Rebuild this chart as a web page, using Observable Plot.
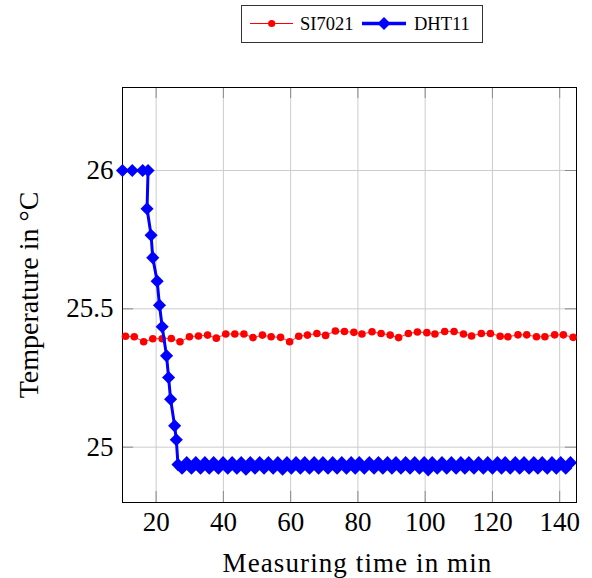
<!DOCTYPE html>
<html>
<head>
<meta charset="utf-8">
<script src="https://cdn.jsdelivr.net/npm/d3@7"></script>
<script src="https://cdn.jsdelivr.net/npm/@observablehq/plot@0.6"></script>
<style>
  html, body { margin: 0; padding: 0; background: white; }
  #wrap { position: relative; width: 592px; height: 578px; }
  #legend { position: absolute; left: 0; top: 0; }
</style>
</head>
<body>
<div id="wrap"></div>
<script>
// ---- data ----
const seriesNames = ["SI7021", "DHT11"];
const xTicks = [20, 40, 60, 80, 100, 120, 140];
const yTicks = [25, 25.5, 26];
const yTickLabels = ["25", "25.5", "26"];
const xLabel = "Measuring time in min";
const yLabel = "Temperature in \u00B0C";

const siTime = [10.9, 13.5, 16.3, 19.0, 21.8, 24.5, 27.1, 29.9, 32.6, 35.3,
  37.9, 40.7, 43.4, 46.1, 48.8, 51.6, 54.2, 57.0, 59.7, 62.4,
  65.0, 67.8, 70.4, 73.3, 76.0, 78.8, 81.2, 84.2, 86.9, 89.6,
  92.1, 95.0, 97.7, 100.5, 102.9, 105.8, 108.6, 111.4, 113.8, 116.7,
  119.4, 122.3, 124.6, 127.6, 130.2, 133.1, 135.6, 138.5, 141.1, 144.0];
const siTemp = [25.401, 25.399, 25.381, 25.392, 25.392, 25.393, 25.381, 25.399, 25.402, 25.405,
  25.394, 25.409, 25.409, 25.409, 25.396, 25.405, 25.399, 25.397, 25.381, 25.401,
  25.405, 25.411, 25.404, 25.420, 25.418, 25.415, 25.409, 25.417, 25.411, 25.405,
  25.396, 25.411, 25.416, 25.414, 25.409, 25.418, 25.418, 25.409, 25.402, 25.411,
  25.411, 25.401, 25.399, 25.406, 25.406, 25.399, 25.399, 25.406, 25.406, 25.397];

const dhtTime = [10.0, 12.9, 16.0, 17.6, 17.3, 18.5, 19.0, 20.3, 21.0, 21.8,
  23.1, 23.7, 24.3, 25.5, 26.0, 26.5,
  27.7, 29.1, 30.5, 31.8, 33.2, 34.5, 35.8, 37.1, 38.5, 39.9,
  41.3, 42.6, 44.0, 45.3, 46.7, 48.0, 49.4, 50.8, 52.1, 53.4,
  54.8, 56.2, 57.6, 58.9, 60.2, 61.6, 62.9, 64.2, 65.6, 67.0,
  68.3, 69.6, 71.1, 72.5, 73.8, 75.2, 76.6, 78.0, 79.2, 80.4,
  81.9, 83.4, 84.8, 86.1, 87.4, 88.8, 90.1, 91.3, 92.8, 94.2,
  95.5, 96.9, 98.3, 99.7, 100.9, 102.1, 103.6, 105.0, 106.4, 107.8,
  109.2, 110.6, 111.8, 113.0, 114.5, 115.9, 117.3, 118.6, 120.0, 121.5,
  122.7, 123.8, 125.3, 126.8, 128.1, 129.4, 130.9, 132.3, 133.5, 134.8,
  136.3, 137.7, 139.0, 140.3, 141.8, 143.2];
const dhtTemp = [26.0, 26.0, 26.0, 26.0, 25.862, 25.766, 25.685, 25.600, 25.513, 25.435,
  25.330, 25.252, 25.173, 25.077, 25.027, 24.937,
  24.924, 24.944, 24.924, 24.944, 24.924, 24.944, 24.924, 24.944, 24.924, 24.944,
  24.924, 24.944, 24.924, 24.944, 24.920, 24.944, 24.924, 24.944, 24.924, 24.944,
  24.924, 24.944, 24.920, 24.944, 24.924, 24.944, 24.924, 24.944, 24.924, 24.944,
  24.924, 24.944, 24.924, 24.944, 24.924, 24.944, 24.924, 24.944, 24.924, 24.944,
  24.924, 24.944, 24.924, 24.944, 24.924, 24.944, 24.924, 24.944, 24.924, 24.944,
  24.924, 24.944, 24.924, 24.944, 24.918, 24.944, 24.924, 24.944, 24.924, 24.944,
  24.924, 24.944, 24.924, 24.944, 24.924, 24.944, 24.924, 24.944, 24.924, 24.944,
  24.924, 24.944, 24.924, 24.944, 24.924, 24.944, 24.924, 24.944, 24.924, 24.944,
  24.924, 24.944, 24.924, 24.944, 24.924, 24.944];

const si = siTime.map((t, i) => ({t, v: siTemp[i]}));
const dht = dhtTime.map((t, i) => ({t, v: dhtTemp[i]}));

const serif = "'Liberation Serif', 'Times New Roman', serif";
const gridColor = "#cccccc";
const tickColor = "#8a8a8a";

const chart = Plot.plot({
  width: 592,
  height: 578,
  marginLeft: 122,
  marginRight: 16,
  marginTop: 87,
  marginBottom: 76,
  style: {fontFamily: serif, background: "white", color: "black"},
  x: {domain: [10, 145]},
  y: {domain: [24.8, 26.3]},
  marks: [
    Plot.gridX(xTicks, {stroke: gridColor, strokeOpacity: 1, strokeWidth: 1}),
    Plot.gridY(yTicks, {stroke: gridColor, strokeOpacity: 1, strokeWidth: 1}),
    // inward ticks on all four sides
    Plot.ruleX(xTicks, {y1: 24.8, y2: 24.84, stroke: tickColor}),
    Plot.ruleX(xTicks, {y1: 26.3, y2: 26.26, stroke: tickColor}),
    Plot.ruleY(yTicks, {x1: 10, x2: 13.3, stroke: tickColor}),
    Plot.ruleY(yTicks, {x1: 145, x2: 141.7, stroke: tickColor}),
    Plot.axisX(xTicks, {tickSize: 0, tickPadding: 9, fontSize: 27, label: null}),
    Plot.axisY(yTicks, {tickSize: 0, tickPadding: 9, fontSize: 27, label: null,
      tickFormat: (d) => yTickLabels[yTicks.indexOf(d)]}),
    Plot.frame({stroke: "black", strokeWidth: 1}),
    Plot.line(si, {x: "t", y: "v", stroke: "#ff0000", strokeWidth: 0.8}),
    Plot.dot(si, {x: "t", y: "v", r: 3.8, fill: "#ff0000", stroke: "none"}),
    Plot.line(dht, {x: "t", y: "v", stroke: "#0000ff", strokeWidth: 3, strokeLinejoin: "round"}),
    Plot.dot(dht, {x: "t", y: "v", symbol: "diamond2", r: 5.9, fill: "#0000ff", stroke: "none"}),
    Plot.text([xLabel], {frameAnchor: "bottom", textAnchor: "middle", lineAnchor: "middle",
      dy: 61, dx: 8, fontSize: 27, fill: "black", className: "xlab"}),
    Plot.text([yLabel], {frameAnchor: "left", textAnchor: "middle", lineAnchor: "middle",
      dx: -93, rotate: -90, fontSize: 28, fill: "black"})
  ]
});

const wrap = document.getElementById("wrap");
wrap.appendChild(chart);
chart.querySelectorAll(".xlab text").forEach(t => t.setAttribute("letter-spacing", "1.1"));

// ---- legend (drawn above the plot area) ----
const ns = "http://www.w3.org/2000/svg";
const lg = document.createElementNS(ns, "svg");
lg.setAttribute("id", "legend");
lg.setAttribute("width", 592);
lg.setAttribute("height", 50);
lg.style.fontFamily = serif;
function el(name, attrs, text) {
  const e = document.createElementNS(ns, name);
  for (const k in attrs) e.setAttribute(k, attrs[k]);
  if (text) e.textContent = text;
  lg.appendChild(e);
  return e;
}
el("rect", {x: 241.5, y: 5.5, width: 241, height: 37, fill: "white", stroke: "#333", "stroke-width": 1});
el("line", {x1: 250, x2: 293, y1: 23.5, y2: 23.5, stroke: "#ff0000", "stroke-width": 1});
el("circle", {cx: 271.7, cy: 23.5, r: 3.6, fill: "#ff0000"});
el("text", {x: 300, y: 30, "font-size": 18.5, fill: "black"}, seriesNames[0]);
el("line", {x1: 362, x2: 406, y1: 23.5, y2: 23.5, stroke: "#0000ff", "stroke-width": 3.5});
el("path", {d: "M384,17L390.5,23.5L384,30L377.5,23.5Z", fill: "#0000ff"});
el("text", {x: 414, y: 30, "font-size": 18.5, fill: "black"}, seriesNames[1]);
wrap.appendChild(lg);
</script>
</body>
</html>
